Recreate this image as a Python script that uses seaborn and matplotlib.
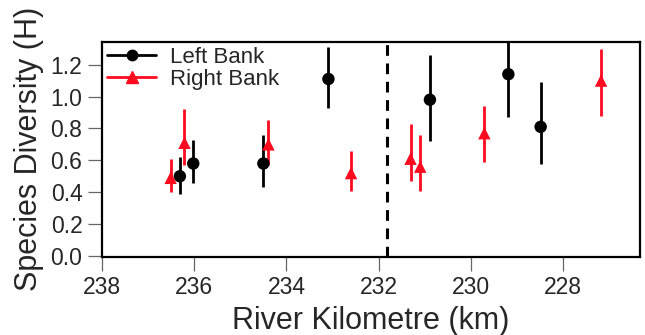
import matplotlib
matplotlib.use("Agg")
import matplotlib.pyplot as plt
from matplotlib.lines import Line2D
import seaborn as sns
import pandas as pd

# Data
left_km = [236.31, 236.02, 234.50, 233.09, 230.89, 229.19, 228.49]
left_h = [0.50, 0.58, 0.58, 1.11, 0.98, 1.14, 0.81]
left_lo = [0.39, 0.46, 0.43, 0.93, 0.72, 0.87, 0.58]
left_hi = [0.62, 0.73, 0.76, 1.31, 1.26, 1.40, 1.09]

right_km = [236.51, 236.21, 234.39, 232.60, 231.31, 231.10, 229.71, 227.18]
right_h = [0.49, 0.71, 0.70, 0.52, 0.61, 0.56, 0.77, 1.10]
right_lo = [0.40, 0.57, 0.57, 0.41, 0.47, 0.41, 0.59, 0.88]
right_hi = [0.61, 0.92, 0.85, 0.66, 0.83, 0.76, 0.94, 1.30]

boundary_km = 231.83
x_ticks = [238, 236, 234, 232, 230, 228]
y_ticks = [0.0, 0.2, 0.4, 0.6, 0.8, 1.0, 1.2]

df = pd.concat([
    pd.DataFrame({"km": left_km, "H": left_h, "lo": left_lo, "hi": left_hi, "bank": "Left Bank"}),
    pd.DataFrame({"km": right_km, "H": right_h, "lo": right_lo, "hi": right_hi, "bank": "Right Bank"}),
], ignore_index=True)

sns.set_style("ticks")
plt.rcParams["font.family"] = ["Liberation Sans", "DejaVu Sans"]

colors = {"Left Bank": "black", "Right Bank": "#ff0a1e"}
markers = {"Left Bank": "o", "Right Bank": "^"}

fig = plt.figure(figsize=(6.45, 3.35), dpi=100)
ax = fig.add_axes([0.158, 0.234, 0.834, 0.642])

for bank, sub in df.groupby("bank"):
    ax.vlines(sub["km"], sub["lo"], sub["hi"], color=colors[bank], lw=2.0, zorder=2)

sns.scatterplot(data=df, x="km", y="H", hue="bank", style="bank",
                palette=colors, markers=markers, s=80, edgecolor="none",
                legend=False, ax=ax, zorder=3)

ax.axvline(boundary_km, color="black", lw=2.2, ls=(0, (3.5, 2.5)), zorder=1)

ax.set_xlim(238, 226.34)
ax.set_ylim(-0.004, 1.345)
ax.set_xticks(x_ticks)
ax.set_xticklabels([str(t) for t in x_ticks])
ax.set_yticks(y_ticks)
ax.set_yticklabels([f"{t:.1f}" for t in y_ticks])

ax.tick_params(axis="both", labelsize=16.5, length=10, width=0.9, color="#666666",
               pad=4, direction="out")
for sp in ax.spines.values():
    sp.set_visible(True)
    sp.set_linewidth(1.6)
    sp.set_color("black")

ax.set_xlabel("River Kilometre (km)", fontsize=22, labelpad=5)
ax.set_ylabel("Species Diversity (H)", fontsize=22, labelpad=5)

handles = [
    Line2D([0], [0], color="black", lw=2, marker="o", markersize=7.5),
    Line2D([0], [0], color="#ff0a1e", lw=2, marker="^", markersize=8.5),
]
ax.legend(handles, ["Left Bank", "Right Bank"], loc="upper left", frameon=False,
          fontsize=16, handlelength=2.2, handletextpad=0.6, borderaxespad=0.1,
          labelspacing=0.05, borderpad=0.15)

fig.savefig("out.png", dpi=100)
